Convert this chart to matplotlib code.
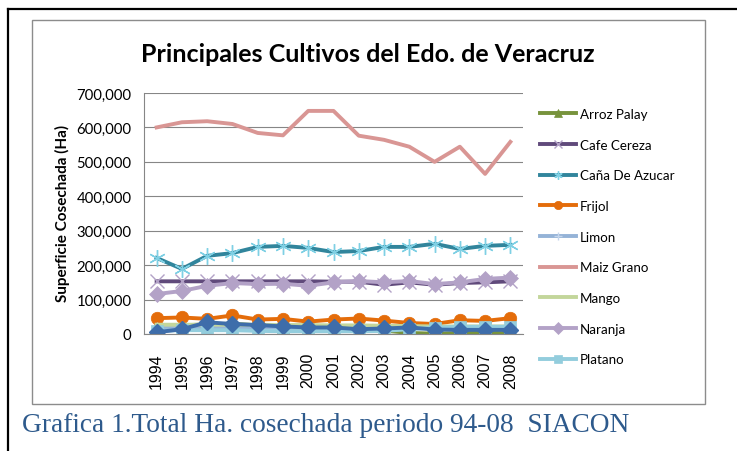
import matplotlib
matplotlib.use("Agg")
import matplotlib.pyplot as plt
from matplotlib.ticker import FuncFormatter
from matplotlib.lines import Line2D
from matplotlib.patches import Rectangle

years = ["1994", "1995", "1996", "1997", "1998", "1999", "2000", "2001",
         "2002", "2003", "2004", "2005", "2006", "2007", "2008"]

arroz_palay = [25000, 25000, 28000, 30000, 25000, 20000, 18000, 15000, 12000, 10000, 3000, 1000, 3000, 4000, 2000]
cafe_cereza = [153000, 153000, 153000, 153000, 153000, 153000, 153000, 152000, 152000, 143000, 150000, 143000, 148000, 150000, 153000]
cana_azucar = [221000, 189000, 227000, 235000, 253000, 256000, 250000, 238000, 241000, 253000, 253000, 262000, 247000, 256000, 259000]
frijol = [46000, 48000, 44000, 54000, 42000, 44000, 36000, 42000, 45000, 39000, 32000, 29000, 40000, 38000, 46000]
limon = [18000, 18000, 19000, 20000, 19000, 18000, 18000, 17000, 17000, 17000, 18000, 19000, 20000, 20000, 20000]
maiz_grano = [600000, 615000, 618000, 610000, 584000, 577000, 648000, 648000, 576000, 564000, 544000, 500000, 544000, 465000, 558000]
mango = [27000, 27000, 27000, 27000, 27000, 26000, 26000, 25000, 25000, 24000, 23000, 22000, 22000, 22000, 22000]
naranja = [116000, 125000, 140000, 148000, 145000, 146000, 140000, 150000, 154000, 150000, 154000, 145000, 150000, 160000, 164000]
platano = [9000, 11000, 11000, 11000, 9000, 8000, 8000, 8000, 8000, 9000, 14000, 18000, 21000, 21000, 21000]
otro = [5000, 14000, 34000, 29000, 26000, 22000, 19000, 19000, 14000, 16000, 19000, 13000, 12000, 12000, 12000]

series = [
    ("Arroz Palay", arroz_palay, "#77933C", "^", "#77933C", 8),
    ("Cafe Cereza", cafe_cereza, "#604A7B", "x", "#B3A2C7", 10),
    ("Caña De Azucar", cana_azucar, "#31859C", (6, 2, 0), "#7FD0E4", 12),
    ("Frijol", frijol, "#E46C0A", "o", "#E46C0A", 9),
    ("Limon", limon, "#95B3D7", "+", "#C5D6EC", 9),
    ("Maiz Grano", maiz_grano, "#D99694", None, "#D99694", 0),
    ("Mango", mango, "#C3D69B", None, "#C3D69B", 0),
    ("Naranja", naranja, "#B3A2C7", "D", "#B3A2C7", 8),
    ("Platano", platano, "#93CDDD", "s", "#93CDDD", 8),
]

fig = plt.figure(figsize=(7.37, 4.52), dpi=100)
fig.patch.set_facecolor("white")

# outer document frame
fig.add_artist(Line2D([8/737, 1.0], [1-10/452, 1-10/452], transform=fig.transFigure, color="black", lw=1.6))
fig.add_artist(Line2D([8/737, 8/737], [0, 1-10/452], transform=fig.transFigure, color="black", lw=1.6))
# chart frame
fig.add_artist(Rectangle((32/737, 1-405/452), 673/737, 384/452, transform=fig.transFigure,
                         fill=False, edgecolor="#8C8C8C", lw=1.0))

ax = fig.add_axes([144/737, 1-335/452, 379/737, 241/452])
x = list(range(len(years)))

handles = []
for name, vals, col, mk, mcol, ms in series:
    if mk is None:
        h, = ax.plot(x, vals, color=col, lw=2.8, label=name, solid_joinstyle="round")
    else:
        mew = 1.0 if mk in ("x", "+", (6, 2, 0)) else 0.5
        h, = ax.plot(x, vals, color=col, lw=2.8, marker=mk, markersize=ms,
                     markerfacecolor=mcol, markeredgecolor=mcol, markeredgewidth=mew,
                     label=name, solid_joinstyle="round")
    handles.append(h)
ax.plot(x, otro, color="#3E6DAA", lw=2.8, marker="D", markersize=8,
        markerfacecolor="#3E6DAA", markeredgecolor="#3E6DAA", solid_joinstyle="round")

ax.set_xlim(-0.5, len(years) - 0.5)
ax.set_ylim(0, 700000)
ax.set_yticks(range(0, 700001, 100000))
ax.yaxis.set_major_formatter(FuncFormatter(lambda v, p: f"{int(v):,}"))
ax.set_xticks(x)
ax.set_xticklabels(years, rotation=90, fontsize=11.5, family="Liberation Sans")
for lab in ax.get_yticklabels():
    lab.set_family("Lato")
    lab.set_fontsize(10.7)
ax.tick_params(axis="y", length=0, pad=9)
ax.tick_params(axis="x", length=0, pad=13)
ax.grid(axis="y", color="#868686", lw=0.8)
ax.set_axisbelow(True)
for s in ("top", "right"):
    ax.spines[s].set_visible(False)
for s in ("left", "bottom"):
    ax.spines[s].set_color("#868686")
    ax.spines[s].set_linewidth(0.8)

fig.text(62/737, 1-213/452, "Superficie Cosechada (Ha)", rotation=90, ha="center", va="center",
         fontsize=11, fontweight="bold", family="Lato")
fig.text(368/737, 1-54/452, "Principales Cultivos del Edo. de Veracruz", ha="center", va="center",
         fontsize=18, fontweight="bold", family="Lato")

leg = fig.legend(handles=handles, loc="upper left", bbox_to_anchor=(540/737, 1-109/452),
                 frameon=False, prop={"family": "Lato", "size": 9.6}, handlelength=2.7,
                 handletextpad=0.3, labelspacing=1.4, borderaxespad=0, borderpad=0)
for h in leg.legend_handles:
    h.set_markersize(6)

fig.text(22/737, 1-426/452, "Grafica 1.Total Ha. cosechada periodo 94-08  SIACON", ha="left", va="center",
         fontsize=19.7, family="Liberation Serif", color="#2E5A8C")

fig.savefig("out.png", dpi=100)
